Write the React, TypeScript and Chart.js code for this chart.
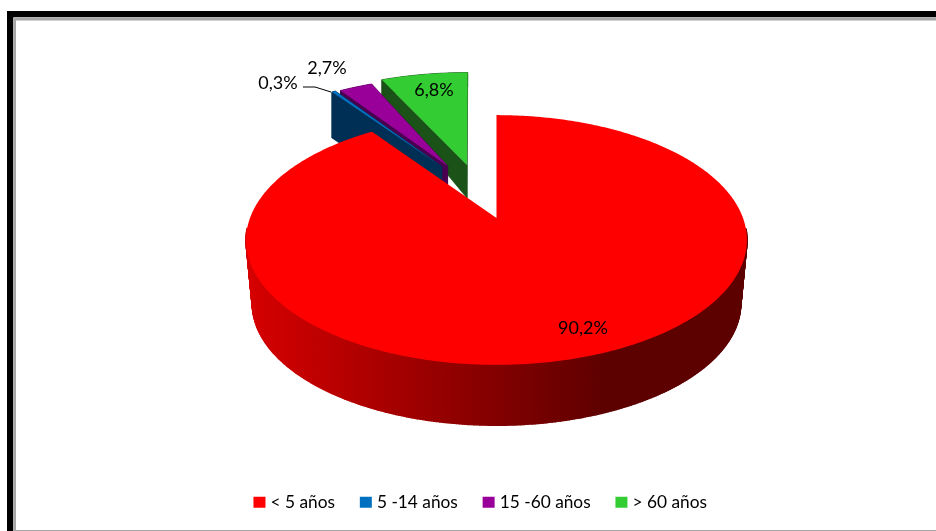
import React, { useEffect, useRef } from "react";
import { Chart, registerables } from "chart.js";

Chart.register(...registerables);

const categories = ["< 5 años", "5 -14 años", "15 -60 años", "> 60 años"];
const shares = [90.2, 0.3, 2.7, 6.8];
const faceColors = ["#ff0000", "#0070c0", "#990099", "#33cc33"];
const wallColors = ["", "#002f55", "#4a0050", "#1a5218"];

// Perspective of the disc
const AX = 496.5, AY = 218, RX = 246.5, RY = 121, PERSP = 0.176;
// Explosion of each slice on the disc's plane, plus a sideways shift on screen
const explodeU = [0, -0.24, -0.2147, -0.02];
const explodeV = [0, -0.46, -0.466, -0.4746];
const shiftX = [0, 0, 0, -25];
const radiusScale = [1, 1, 1, 1.05];
// Extrusion of each slice: scale and shift of the lower face
const lowerKx = [0.975, 1, 1, 1];
const lowerKy = [0.975, 1, 1, 1.2];
const lowerShift = [64, 46, 30, 43.6];
// Label centres
const labelX = [583, 278, 327, 434];
const labelY = [328, 83, 68, 90];

const FONT = "Lato, 'Open Sans', sans-serif";

const project = (u: number, v: number) => {
  const s = 1 / (1 - PERSP * v);
  return { x: AX + RX * u * s, y: AY + RY * v * s };
};

const pie3d = {
  id: "pie3d",
  beforeDraw(chart: any) {
    const { ctx, width, height } = chart;
    ctx.save();
    ctx.fillStyle = "#ffffff";
    ctx.fillRect(0, 0, width, height);
    ctx.fillStyle = "#000000";
    ctx.fillRect(7, 11, width - 7, 6.3);
    ctx.fillRect(7, 11, 6.3, height - 11);
    ctx.fillStyle = "#a6a6a6";
    ctx.fillRect(14, 18, width - 14, 2.5);
    ctx.fillRect(14, 18, 2, height - 18);
    ctx.fillRect(14, 530, width - 14, 1);
    ctx.restore();
  },
  beforeDatasetDraw(chart: any) {
    const { ctx } = chart;
    const arcs = chart.getDatasetMeta(0).data;
    const redSide = ctx.createLinearGradient(250, 0, 610, 0);
    redSide.addColorStop(0, "#d60000");
    redSide.addColorStop(1, "#5c0000");
    ctx.save();
    ctx.lineJoin = "round";
    for (let i = arcs.length - 1; i >= 0; i--) {
      const arc = arcs[i];
      const du = explodeU[i], dv = explodeV[i], rs = radiusScale[i];
      const place = (u: number, v: number) => {
        const p = project(u, v);
        return { x: p.x + shiftX[i], y: p.y };
      };
      const top: { x: number; y: number }[] = [place(du, dv)];
      const steps = Math.max(2, Math.ceil((arc.endAngle - arc.startAngle) / 0.01));
      for (let k = 0; k <= steps; k++) {
        const a = arc.startAngle + ((arc.endAngle - arc.startAngle) * k) / steps;
        top.push(place(du + rs * Math.cos(a), dv + rs * Math.sin(a)));
      }
      const low = top.map((p) => ({
        x: AX + (p.x - AX) * lowerKx[i],
        y: AY + lowerShift[i] + (p.y - AY) * lowerKy[i],
      }));
      const wall = i === 0 ? redSide : wallColors[i];
      ctx.fillStyle = wall;
      ctx.strokeStyle = wall;
      ctx.lineWidth = i === 0 ? 1.6 : 0.7;
      for (let k = 0; k < top.length; k++) {
        const n = (k + 1) % top.length;
        // The far part of the big slice's wall lies behind its own top face.
        if (i === 0 && (top[k].y < AY + 10 || top[n].y < AY + 10)) continue;
        ctx.beginPath();
        ctx.moveTo(top[k].x, top[k].y);
        ctx.lineTo(top[n].x, top[n].y);
        ctx.lineTo(low[n].x, low[n].y);
        ctx.lineTo(low[k].x, low[k].y);
        ctx.closePath();
        ctx.fill();
        ctx.stroke();
      }
      ctx.beginPath();
      top.forEach((p, k) => (k ? ctx.lineTo(p.x, p.y) : ctx.moveTo(p.x, p.y)));
      ctx.closePath();
      ctx.fillStyle = arc.options.backgroundColor;
      ctx.fill();
    }
    ctx.restore();
    return false;
  },
  afterDraw(chart: any) {
    const { ctx } = chart;
    ctx.save();
    ctx.strokeStyle = "#000000";
    ctx.lineWidth = 1;
    ctx.beginPath();
    ctx.moveTo(303, 87);
    ctx.lineTo(315, 87);
    ctx.lineTo(331, 92);
    ctx.stroke();
    ctx.fillStyle = "#000000";
    ctx.font = `18px ${FONT}`;
    ctx.textAlign = "center";
    ctx.textBaseline = "middle";
    shares.forEach((v, i) => {
      ctx.fillText(`${v.toFixed(1).replace(".", ",")}%`, labelX[i], labelY[i]);
    });
    ctx.restore();
  },
};

export default function App() {
  const ref = useRef<HTMLCanvasElement>(null);
  useEffect(() => {
    const chart = new Chart(ref.current as HTMLCanvasElement, {
      type: "pie",
      data: {
        labels: categories,
        datasets: [{ data: shares, backgroundColor: faceColors, borderWidth: 0 }],
      },
      options: {
        responsive: false,
        animation: false,
        devicePixelRatio: 1,
        layout: { padding: { left: 28, bottom: 10 } },
        plugins: {
          title: { display: false },
          tooltip: { enabled: false },
          legend: {
            display: true,
            position: "bottom",
            labels: {
              color: "#000000",
              font: { family: FONT, size: 17.3 },
              boxWidth: 5,
              boxHeight: 4,
              padding: 28.3,
              generateLabels: () =>
                categories.map((text, index) => ({
                  text,
                  index,
                  fillStyle: faceColors[index],
                  strokeStyle: faceColors[index],
                  lineWidth: 7,
                  lineJoin: "miter",
                  fontColor: "#000000",
                  hidden: false,
                })),
            },
          },
        },
      } as any,
      plugins: [pie3d as any],
    });
    return () => chart.destroy();
  }, []);
  return (
    <canvas
      ref={ref}
      width={936}
      height={531}
      style={{ position: "fixed", left: 0, top: 0, width: 936, height: 531, display: "block" }}
    />
  );
}
